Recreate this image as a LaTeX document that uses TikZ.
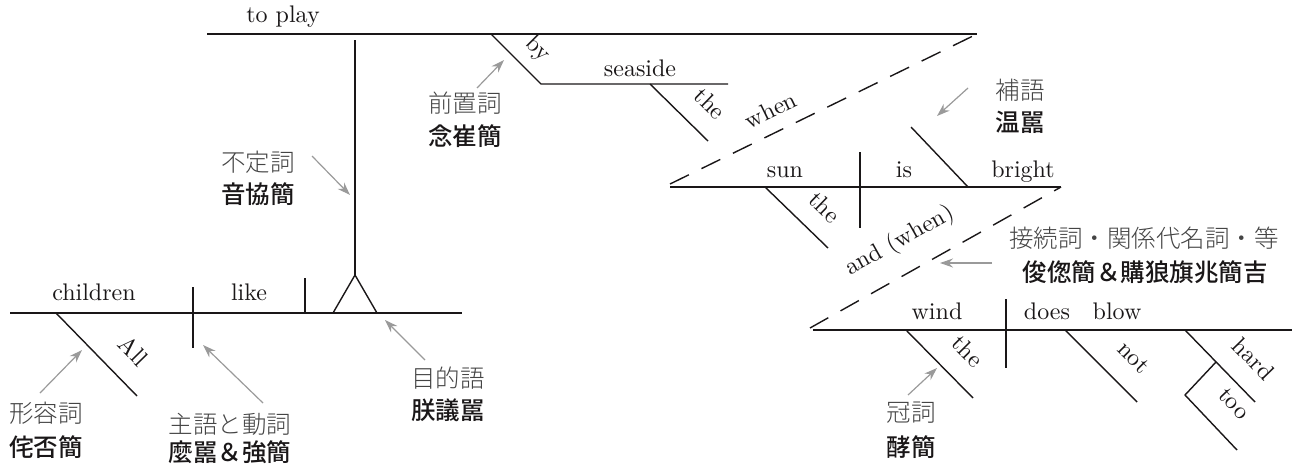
\documentclass[tikz,border=0pt]{standalone}
\usepackage{fontspec}
\newfontfamily\lmx{lmroman10-regular.otf}
\IfFontExistsTF{Noto Sans CJK JP Light}{\newfontfamily\jp{Noto Sans CJK JP Light}}{\newfontfamily\jp{Noto Sans CJK JP}}
\IfFontExistsTF{Noto Sans CJK JP Medium}{\newfontfamily\jpb{Noto Sans CJK JP Medium}}{\newfontfamily\jpb{Noto Sans CJK JP}}
\usetikzlibrary{arrows.meta,calc}
\definecolor{lblgray}{HTML}{444444}
\definecolor{arrgray}{HTML}{9A9A9A}
\definecolor{ink}{HTML}{1A1718}
\begin{document}
\begin{tikzpicture}[x=1pt,y=-1pt,
  word/.style={font=\lmx\fontsize{24}{28}\selectfont, text=ink, inner sep=0pt, anchor=base},
  slw/.style={font=\lmx\fontsize{24}{28}\selectfont, text=ink, inner sep=0pt, sloped, above=10pt},
  jl/.style={font=\jp\fontsize{24.5}{28}\selectfont, text=lblgray, inner sep=0pt},
  jb/.style={font=\jpb\fontsize{24.5}{28}\selectfont, text=ink, inner sep=0pt},
  arr/.style={draw=arrgray, line width=1.2pt, -{Stealth[length=13pt,width=9pt]}},
  ln/.style={line width=1.4pt, draw=ink},
  dsh/.style={line width=1.4pt, draw=ink, dash pattern=on 21pt off 14pt}]
\useasboundingbox (0,0) rectangle (1297,466);

% ---------- left clause ----------
\coordinate (L0) at (10,313); \coordinate (L1) at (462,313);
\draw[ln] (L0) -- (L1);
\node[word] (children) at (94,300) {children};
\coordinate (A0) at (56,313); \coordinate (A1) at (137,396);
\draw[ln] (A0) -- node[slw,pos=0.7,above=10pt] (all) {All} (A1);
\coordinate (D1t) at (193,287); \coordinate (D1b) at (193,348);
\draw[ln] (D1t) -- (D1b);
\node[word] (like) at (249,300) {like};
\coordinate (T1t) at (305,278); \coordinate (T1b) at (305,313);
\draw[ln] (T1t) -- (T1b);
\coordinate (TrL) at (333,313); \coordinate (TrR) at (377,313); \coordinate (TrA) at (355,275);
\draw[ln] (TrL) -- (TrA) -- (TrR) -- cycle;
\coordinate (S0) at (355,40);
\draw[ln] (TrA) -- (S0);

% ---------- infinitive phrase ----------
\coordinate (P0) at (207,34); \coordinate (P1) at (977,34);
\draw[ln] (P0) -- (P1);
\node[word] (toplay) at (283,22) {to play};
\coordinate (B0) at (491,34); \coordinate (B1) at (541,84); \coordinate (SS1) at (728,84);
\draw[ln] (B0) -- node[slw,pos=0.62,above=1pt] (by) {by} (B1) -- (SS1);
\node[word] (seaside) at (640,76) {seaside};
\coordinate (Th0) at (650,84); \coordinate (Th1) at (708,141);
\draw[ln] (Th0) -- node[slw,pos=0.7,above=9pt] (the1) {the} (Th1);

% ---------- when clause ----------
\coordinate (W0) at (670,184); \coordinate (W1) at (977,34);
\draw[dsh] (W0) -- node[slw,pos=0.36,above=3pt] (when) {when} (W1);
\coordinate (U0) at (670,187); \coordinate (U1) at (1061,187);
\draw[ln] (U0) -- (U1);
\node[word] (sun) at (785,177) {sun};
\node[word] (is) at (904,177) {is};
\node[word] (bright) at (1023,177) {bright};
\coordinate (D2t) at (860,152); \coordinate (D2b) at (860,228);
\draw[ln] (D2t) -- (D2b);
\coordinate (Cp0) at (911,127); \coordinate (Cp1) at (968,187);
\draw[ln] (Cp0) -- (Cp1);
\coordinate (Ts0) at (765,187); \coordinate (Ts1) at (828,248);
\draw[ln] (Ts0) -- node[slw,pos=0.65,above=8pt] (the2) {the} (Ts1);

% ---------- and (when) clause ----------
\coordinate (C0) at (810,328); \coordinate (C1) at (1061,187);
\draw[dsh] (C0) -- node[slw,pos=0.42,above=9pt] (andwhen) {and (when)} (C1);
\coordinate (R0) at (813,330); \coordinate (R1) at (1292,330);
\draw[ln] (R0) -- (R1);
\node[word] (wind) at (937,319) {wind};
\node[word] (does) at (1047,319) {does};
\node[word] (blow) at (1117,319) {blow};
\coordinate (D3t) at (1006,299); \coordinate (D3b) at (1006,368);
\draw[ln] (D3t) -- (D3b);
\coordinate (Tw0) at (906,330); \coordinate (Tw1) at (973,398);
\draw[ln] (Tw0) -- node[slw,pos=0.61,above=10pt] (the3) {the} (Tw1);
\coordinate (N0) at (1065,330); \coordinate (N1) at (1137,402);
\draw[ln] (N0) -- node[slw,pos=0.67,above=11pt] (not) {not} (N1);
\coordinate (H0) at (1185,330); \coordinate (H1) at (1255,402);
\draw[ln] (H0) -- node[slw,pos=0.68,above=10pt] (hard) {hard} (H1);
\coordinate (Hm) at (1216,362); \coordinate (To0) at (1185,395); \coordinate (To1) at (1237,450);
\draw[ln] (Hm) -- (To0) -- node[slw,pos=0.53,above=12pt] (too) {too} (To1);

% ---------- labels ----------
\node[jl] (adjL) at (46,413) {形容詞};
\node[jb] (adjB) at (46,447) {侘否簡};
\coordinate (adjT) at (40,393); \coordinate (adjH) at (82,350);
\draw[arr] (adjT) -- (adjH);

\node[jl] (svL) at (230,424) {主語と動詞};
\node[jb] (svB) at (230,452) {麼嚚＆強簡};
\coordinate (svT) at (263,403); \coordinate (svH) at (203,345);
\draw[arr] (svT) -- (svH);

\node[jl] (objL) at (448,378) {目的語};
\node[jb] (objB) at (448,410) {朕議嚚};
\coordinate (objT) at (425,360); \coordinate (objH) at (385,320);
\draw[arr] (objT) -- (objH);

\node[jl] (infL) at (258,162) {不定詞};
\node[jb] (infB) at (258,194) {音協簡};
\coordinate (infT) at (312,156); \coordinate (infH) at (350,195);
\draw[arr] (infT) -- (infH);

\node[jl] (prepL) at (465,103) {前置詞};
\node[jb] (prepB) at (465,136) {念崔簡};
\coordinate (prepT) at (477,88); \coordinate (prepH) at (504,60);
\draw[arr] (prepT) -- (prepH);

\node[jl] (compL) at (1020,90) {補語};
\node[jb] (compB) at (1020,122) {温嚚};
\coordinate (compT) at (968,88); \coordinate (compH) at (937,116);
\draw[arr] (compT) -- (compH);

\node[jl] (conjL) at (1144,238) {接続詞・関係代名詞・等};
\node[jb] (conjB) at (1145,272) {俊偬簡＆購狼旗兆簡吉};
\coordinate (conjT) at (992,263); \coordinate (conjH) at (940,263);
\draw[arr] (conjT) -- (conjH);

\node[jl] (artL) at (911,413) {冠詞};
\node[jb] (artB) at (911,447) {酵簡};
\coordinate (artT) at (908,395); \coordinate (artH) at (937,368);
\draw[arr] (artT) -- (artH);
\end{tikzpicture}
\end{document}
